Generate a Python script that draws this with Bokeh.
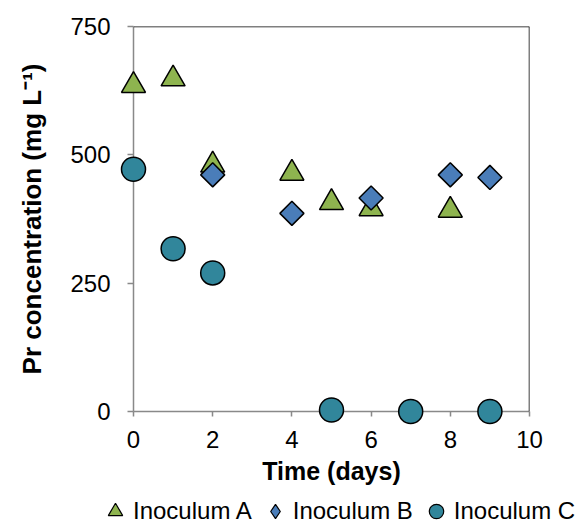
import numpy as np
from bokeh.plotting import figure
from bokeh.layouts import column
from bokeh.models import Range1d, Legend, LegendItem, Span, FixedTicker
from bokeh.embed import file_html
from bokeh.resources import INLINE

# Data
days_a = [0, 1, 2, 4, 5, 6, 8]
conc_a = [635, 648, 480, 464, 407, 395, 392]
days_b = [2, 4, 6, 8, 9]
conc_b = [461, 386, 416, 461, 456]
days_c = [0, 1, 2, 5, 7, 9]
conc_c = [472, 317, 270, 3, 0, 0]

series_labels = ["Inoculum A", "Inoculum B", "Inoculum C"]
x_ticks = [0, 2, 4, 6, 8, 10]
y_ticks = [0, 250, 500, 750]

FONT = "Liberation Sans"
AXIS_GRAY = "#898989"
COL_A, COL_B, COL_C = "#8EB44F", "#4A7DB9", "#31869B"

p = figure(width=579, height=494, output_backend="svg", toolbar_location=None,
           x_range=Range1d(0, 10), y_range=Range1d(0, 750),
           min_border_left=133, min_border_right=50,
           min_border_top=26, min_border_bottom=83)
p.frame_align = False
p.xgrid.visible = False
p.ygrid.visible = False
p.outline_line_color = None
p.background_fill_color = "white"
p.border_fill_color = "white"

for ax in (p.xaxis[0], p.yaxis[0]):
    ax.axis_line_color = AXIS_GRAY
    ax.axis_line_width = 1.5
    ax.major_tick_line_color = AXIS_GRAY
    ax.major_tick_line_width = 1.5
    ax.minor_tick_line_color = None
    ax.major_tick_in = 0
    ax.major_label_text_font = FONT
    ax.major_label_text_font_size = "24px"
    ax.major_label_text_color = "black"
    ax.axis_label_text_font = FONT
    ax.axis_label_text_font_style = "bold"
    ax.axis_label_text_color = "black"

p.xaxis[0].ticker = FixedTicker(ticks=x_ticks)
p.xaxis[0].major_tick_out = 5
p.xaxis[0].major_label_standoff = 14
p.xaxis[0].axis_label = "Time (days)"
p.xaxis[0].axis_label_text_font_size = "25px"
p.xaxis[0].axis_label_standoff = 6

p.yaxis[0].ticker = FixedTicker(ticks=y_ticks)
p.yaxis[0].major_tick_out = 6
p.yaxis[0].major_label_standoff = 17
p.yaxis[0].axis_label = "Pr concentration (mg L\u207b\u00b9)"
p.yaxis[0].axis_label_text_font_size = "26px"
p.yaxis[0].axis_label_standoff = 20

p.add_layout(Span(location=750, dimension="width", line_color="black", line_width=1.5))
p.add_layout(Span(location=10, dimension="height", line_color="black", line_width=1.5))

ra = p.scatter(days_a, conc_a, marker="triangle", size=24, fill_color=COL_A,
               line_color="black", line_width=1.5, level="overlay")
rb = p.scatter(days_b, conc_b, marker="square", angle=np.pi / 4, size=17,
               fill_color=COL_B, line_color="black", line_width=1.5, level="overlay")
rc = p.scatter(days_c, conc_c, marker="circle", size=24, fill_color=COL_C,
               line_color="black", line_width=1.5, level="overlay")

# Legend strip below the chart (a separate figure so that it is not clipped)
lg = figure(width=579, height=31, output_backend="svg", toolbar_location=None,
            x_axis_type=None, y_axis_type=None,
            x_range=Range1d(0, 1), y_range=Range1d(0, 1),
            min_border_left=0, min_border_right=0, min_border_top=0, min_border_bottom=0)
lg.frame_align = False
lg.grid.visible = False
lg.outline_line_color = None
lg.background_fill_color = "white"
lg.border_fill_color = "white"

# swatch renderers for the legend (no visible points of their own)
ka = lg.scatter([np.nan], [np.nan], marker="triangle", fill_color=COL_A,
                line_color="black", line_width=1.2)
kb = lg.scatter([np.nan], [np.nan], marker="diamond", fill_color=COL_B,
                line_color="black", line_width=1.2)
kc = lg.scatter([np.nan], [np.nan], marker="circle", fill_color=COL_C,
                line_color="black", line_width=1.2)

legend = Legend(items=[LegendItem(label=series_labels[0], renderers=[ka]),
                       LegendItem(label=series_labels[1], renderers=[kb]),
                       LegendItem(label=series_labels[2], renderers=[kc])],
                orientation="horizontal", location=(97, -4),
                glyph_width=36, glyph_height=36, label_standoff=0, spacing=5,
                padding=0, margin=0, border_line_color=None, background_fill_alpha=0,
                label_text_font=FONT, label_text_font_size="24px", label_text_color="black")
lg.add_layout(legend)

layout = column(p, lg, spacing=0)
open("out.html", "w").write(file_html(layout, INLINE))
